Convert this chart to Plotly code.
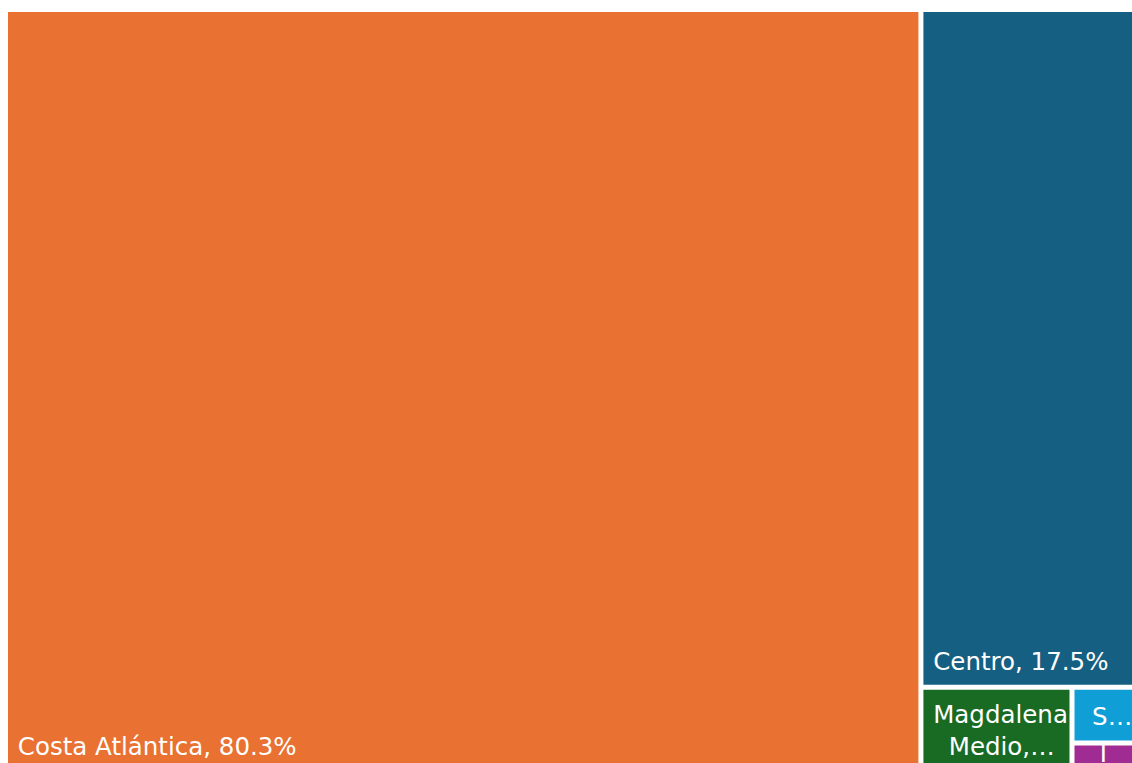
import plotly.graph_objects as go

# Regional shares (percent of total)
regions = ["Costa Atlántica", "Centro", "Magdalena Medio", "Suroccidente", "Llanos"]
shares = [80.3, 17.5, 1.48, 0.47, 0.25]
colors = ["#E97132", "#156082", "#196B24", "#0F9ED5", "#A02B93"]

NB = "\u00a0"
# a wide invisible trailing space lifts each caption off the tile's bottom edge
TAIL = "<span style='font-size:54px'>" + NB + "</span>"

# Tile captions; small tiles carry shortened captions
captions = [
    NB + "%{label}, %{percentRoot:.1%}" + TAIL,
    NB + "%{label}, %{percentRoot:.1%}" + TAIL,
    NB + "Magdalena<br>" + NB * 3 + "Medio,…" + TAIL,
    NB * 2 + "S…" + TAIL,
    NB * 3 + "I",
]

fig = go.Figure(
    go.Treemap(
        labels=regions,
        parents=[""] * len(regions),
        values=shares,
        marker=dict(
            colors=colors,
            line=dict(color="white", width=2),
            pad=dict(t=0, l=0, r=0, b=0),
        ),
        texttemplate=captions,
        textposition="bottom left",
        textfont=dict(family="DejaVu Sans", size=24.5, color="white"),
        sort=True,
        pathbar=dict(visible=False),
        hoverinfo="label+percent root",
    )
)

fig.update_layout(
    width=1150,
    height=780,
    margin=dict(l=7, r=6, t=11, b=9),
    paper_bgcolor="white",
    showlegend=False,
    uniformtext=dict(mode="show", minsize=24.5),
)

fig.write_html("out.html")
